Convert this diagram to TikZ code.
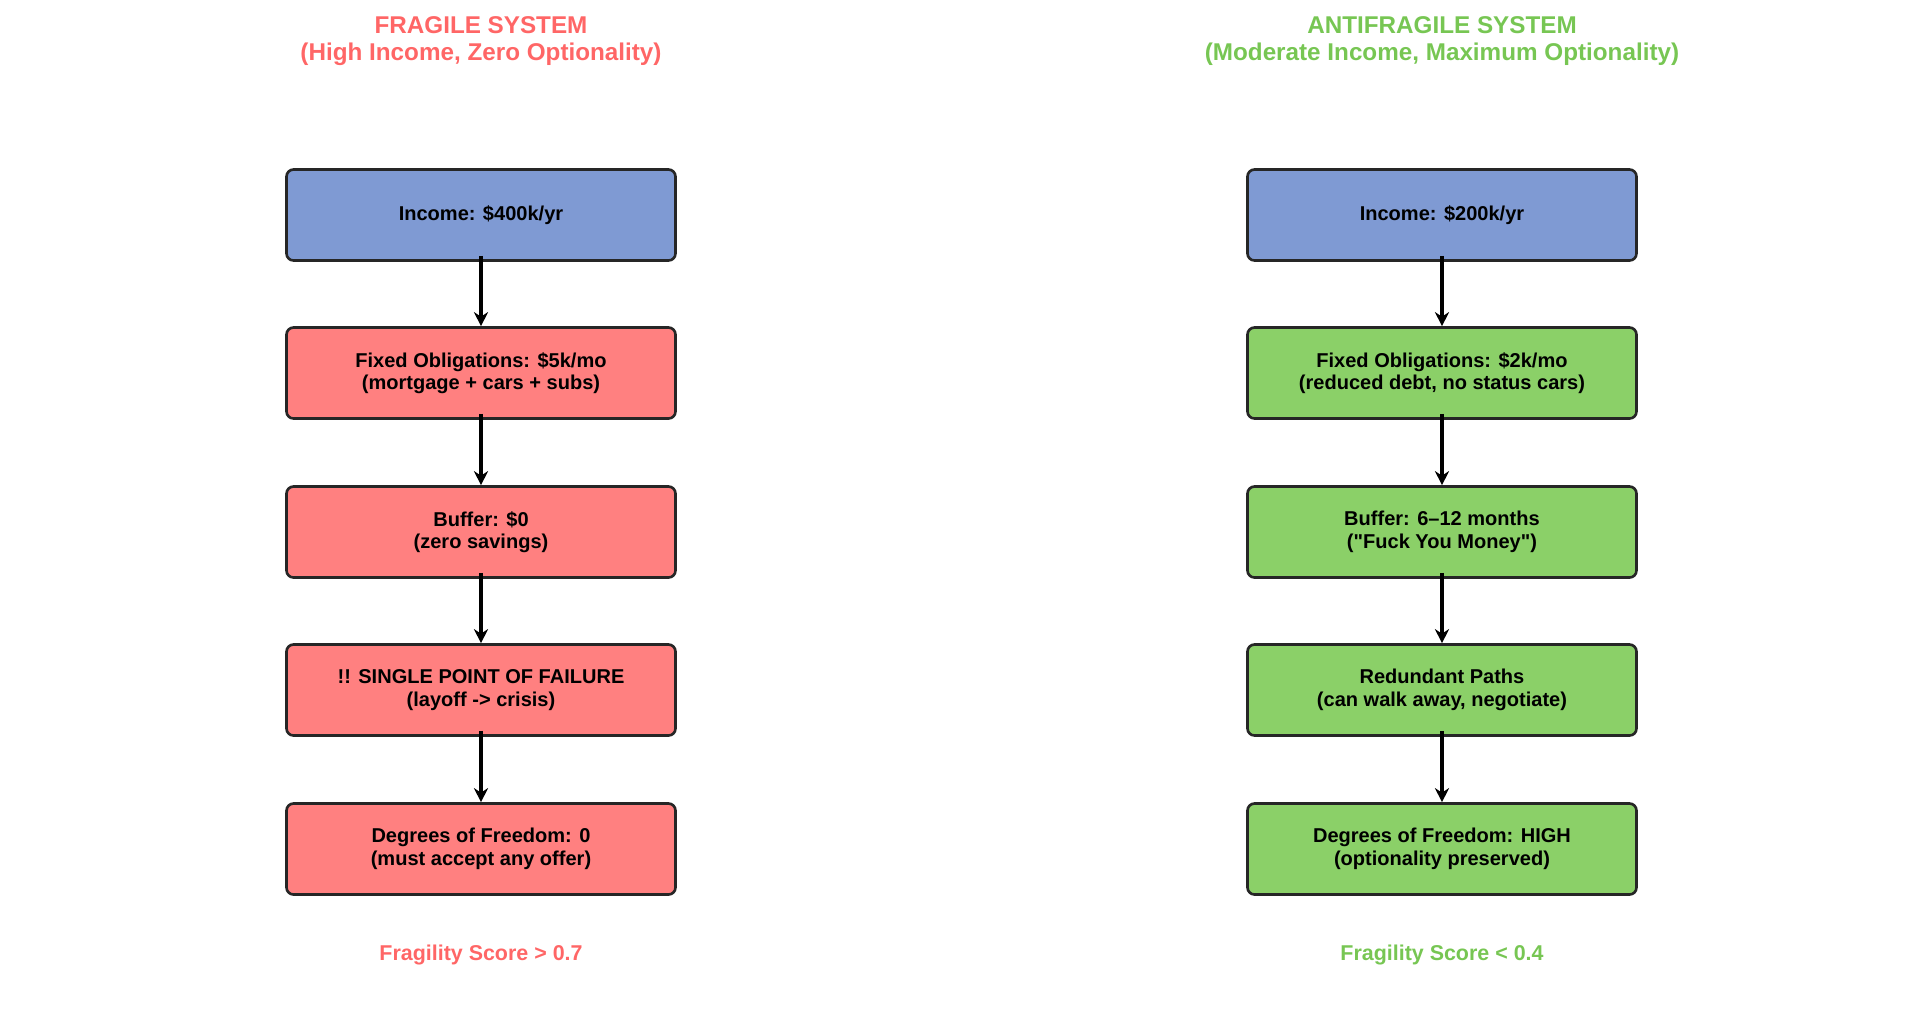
\documentclass[tikz,border=0pt]{standalone}
\usepackage{fontspec}
\setmainfont{Liberation Sans}
\usetikzlibrary{positioning,arrows.meta}
\definecolor{incomeblue}{HTML}{7F9AD3}
\definecolor{fragred}{HTML}{FF8080}
\definecolor{antigreen}{HTML}{8BD068}
\definecolor{titlered}{HTML}{FF6666}
\definecolor{titlegreen}{HTML}{77C653}

\begin{document}
\begin{tikzpicture}[
    box/.style={rectangle, draw=black!85, line width=0.75pt, rounded corners=2pt, minimum width=3.89cm, minimum height=0.91cm, align=center, font=\fontsize{5.7}{6.4}\selectfont\bfseries},
    title/.style={align=center, font=\fontsize{6.9}{7.7}\selectfont\bfseries},
    score/.style={font=\fontsize{6.1}{7}\selectfont\bfseries},
    flow/.style={-{Stealth[length=4pt,width=4pt]}, line width=0.9pt},
]
    \useasboundingbox (0,0) rectangle (19.21,-10.21);

    % fragile side
    \node[title, text=titlered] (ftitle) at (4.81, -0.41) {FRAGILE SYSTEM\\(High Income, Zero Optionality)};
    \node[box, fill=incomeblue] (f1) at (4.81, -2.15) {Income: \$400k/yr};
    \node[box, fill=fragred] (f2) at (4.81, -3.73) {Fixed Obligations: \$5k/mo\\(mortgage + cars + subs)};
    \node[box, fill=fragred] (f3) at (4.81, -5.32) {Buffer: \$0\\(zero savings)};
    \node[box, fill=fragred] (f4) at (4.81, -6.90) {!! SINGLE POINT OF FAILURE\\(layoff -> crisis)};
    \node[box, fill=fragred] (f5) at (4.81, -8.49) {Degrees of Freedom: 0\\(must accept any offer)};
    \node[score, text=titlered] (fscore) at (4.81, -9.55) {Fragility Score > 0.7};

    % antifragile side
    \node[title, text=titlegreen] (atitle) at (14.42, -0.41) {ANTIFRAGILE SYSTEM\\(Moderate Income, Maximum Optionality)};
    \node[box, fill=incomeblue] (a1) at (14.42, -2.15) {Income: \$200k/yr};
    \node[box, fill=antigreen] (a2) at (14.42, -3.73) {Fixed Obligations: \$2k/mo\\(reduced debt, no status cars)};
    \node[box, fill=antigreen] (a3) at (14.42, -5.32) {Buffer: 6--12 months\\(\textquotedbl Fuck You Money\textquotedbl)};
    \node[box, fill=antigreen] (a4) at (14.42, -6.90) {Redundant Paths\\(can walk away, negotiate)};
    \node[box, fill=antigreen] (a5) at (14.42, -8.49) {Degrees of Freedom: HIGH\\(optionality preserved)};
    \node[score, text=titlegreen] (ascore) at (14.42, -9.55) {Fragility Score < 0.4};

    \foreach \s in {f,a} {
        \foreach \i [evaluate=\i as \j using int(\i+1)] in {1,...,4} {
            \draw[flow] ([yshift=0.06cm]\s\i.south) -- (\s\j.north);
        }
    }
\end{tikzpicture}
\end{document}
